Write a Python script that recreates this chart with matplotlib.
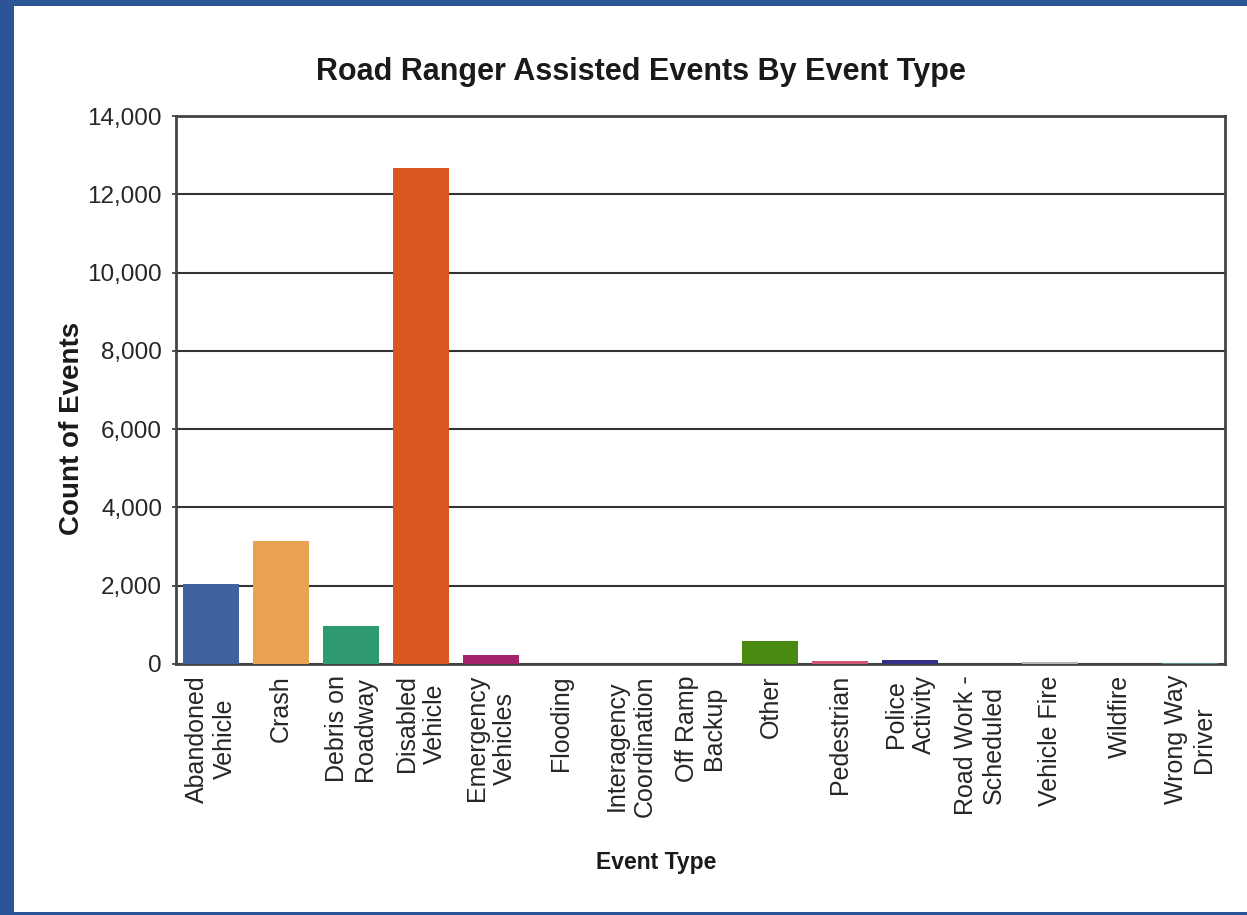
import matplotlib
matplotlib.use("Agg")
import matplotlib.pyplot as plt
from matplotlib.patches import Rectangle

categories = ["Abandoned\nVehicle", "Crash", "Debris on\nRoadway", "Disabled\nVehicle",
              "Emergency\nVehicles", "Flooding", "Interagency\nCoordination", "Off Ramp\nBackup",
              "Other", "Pedestrian", "Police\nActivity", "Road Work -\nScheduled",
              "Vehicle Fire", "Wildfire", "Wrong Way\nDriver"]
counts = [2040, 3130, 970, 12680, 220, 0, 0, 5, 580, 70, 95, 10, 55, 5, 15]
colors = ["#3f62a0", "#e9a254", "#2f9a70", "#d9581f", "#a3246a", "#6a9fd4", "#c0a040",
          "#7a7a7a", "#4b8a12", "#d0566f", "#343087", "#8c6d3a", "#b5b5b5", "#e07a30", "#5a8a8a"]
yticks = [0, 2000, 4000, 6000, 8000, 10000, 12000, 14000]

plt.rcParams['font.family'] = ['Liberation Sans', 'DejaVu Sans']

W, H = 1247, 915
fig = plt.figure(figsize=(W / 100, H / 100), dpi=100)
fig.patch.set_facecolor("#2c5597")
bg = Rectangle((14 / W, 3 / H), 1 - 14 / W, 1 - 9 / H,
               transform=fig.transFigure, facecolor="white", edgecolor="none", zorder=-10)
fig.add_artist(bg)

ax = fig.add_axes([176 / W, 1 - 664 / H, (1225 - 176) / W, (664 - 116) / H])
ax.set_zorder(1)
ax.set_facecolor("white")
x = list(range(len(categories)))
ax.bar(x, counts, width=0.8, color=colors, zorder=3)
ax.set_xlim(-0.5, len(categories) - 0.5)
ax.set_ylim(0, 14000)
ax.set_yticks(yticks)
ax.set_yticklabels([f"{v:,}" for v in yticks], fontsize=17.5, color="#262626")
ax.yaxis.grid(True, color="#333333", linewidth=1.5, zorder=1)
ax.set_axisbelow(True)
ax.set_xticks(x)
ax.set_xticklabels(categories, rotation=90, fontsize=18, color="#262626",
                   multialignment="center")
ax.tick_params(axis="x", length=0, pad=8)
ax.tick_params(axis="y", length=3, width=1.2, color="#333333", pad=7)
for s in ax.spines.values():
    s.set_color("#444444")
    s.set_linewidth(2)

fig.text(641 / W, 1 - 72 / H, "Road Ranger Assisted Events By Event Type", fontsize=22,
         fontweight="bold", ha="center", va="center", color="#1a1a1a")
fig.text(72 / W, 1 - 428 / H, "Count of Events", fontsize=20, fontweight="bold",
         rotation=90, ha="center", va="center", color="#1a1a1a")
fig.text(656 / W, 1 - 862 / H, "Event Type", fontsize=16.5, fontweight="bold",
         ha="center", va="center", color="#1a1a1a")

fig.savefig("out.png", dpi=100, facecolor=fig.get_facecolor())
